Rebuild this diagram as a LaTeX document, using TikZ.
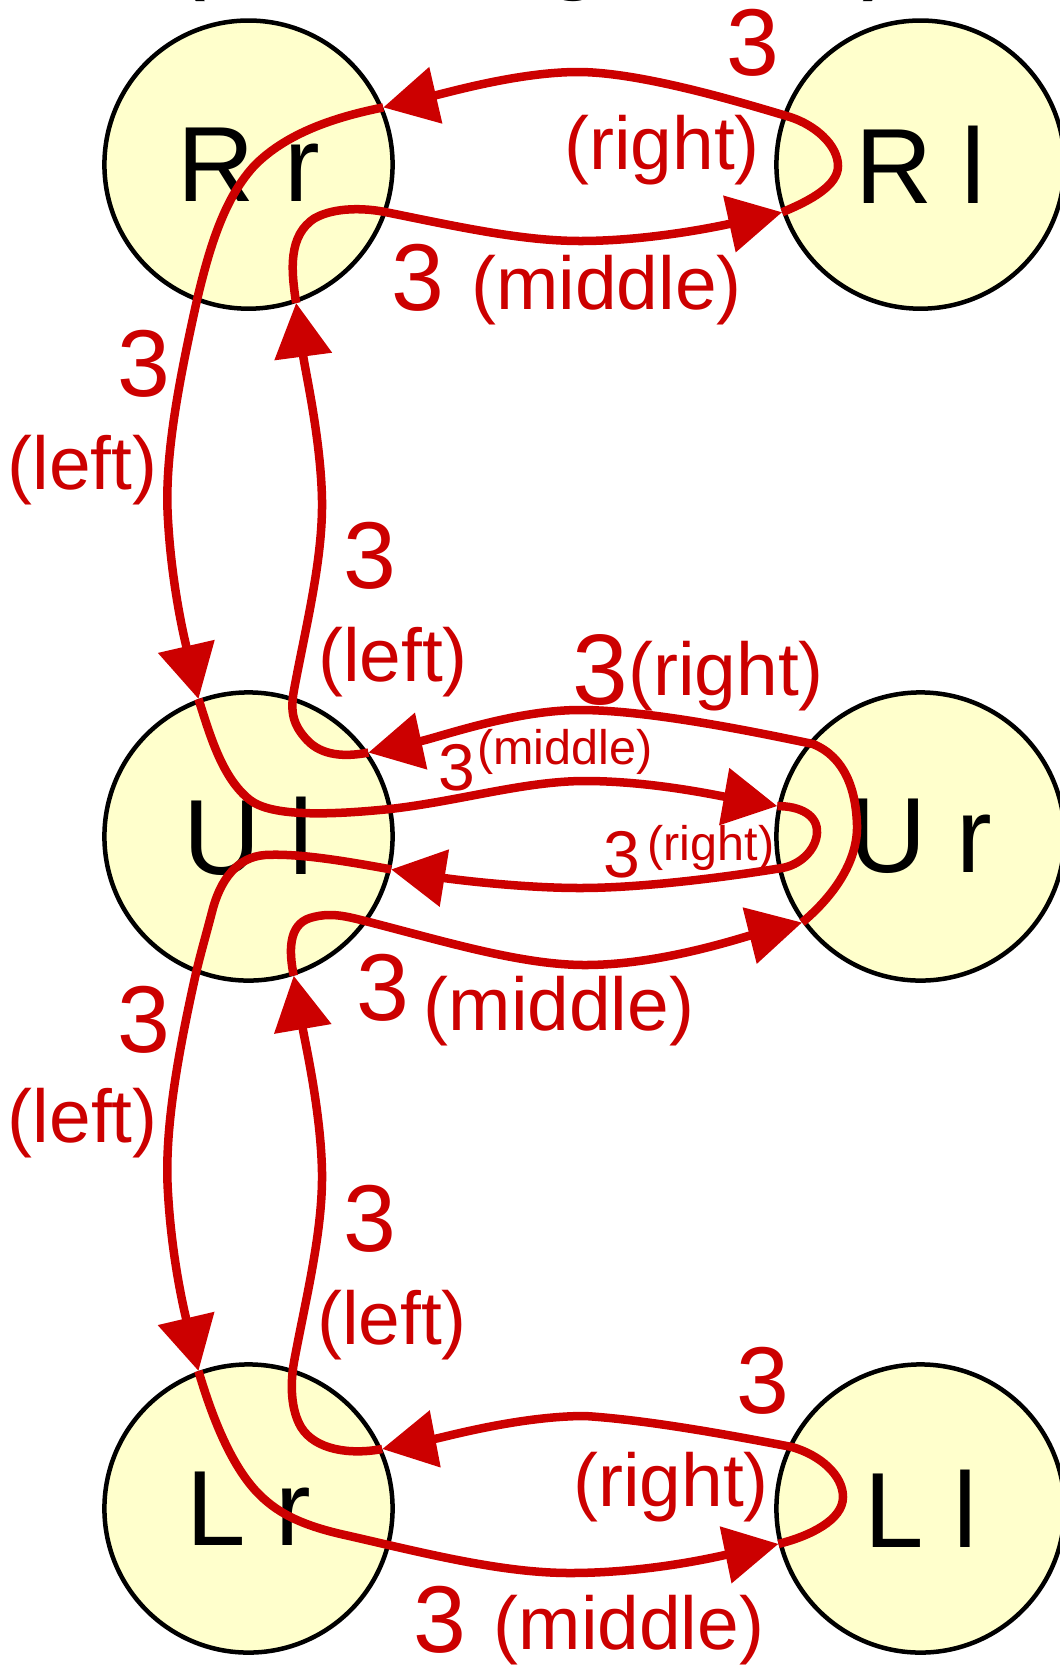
\documentclass[tikz,border=0pt]{standalone}
\usepackage{fontspec}
\setmainfont{Liberation Sans}
\usepackage{xcolor}
\usetikzlibrary{arrows.meta}
\definecolor{edgered}{HTML}{CC0000}
\definecolor{stfill}{HTML}{FFFFCC}
\newcommand{\statefont}{\fontsize{30.4}{36}\selectfont}
\newcommand{\wfont}{\fontsize{27}{32}\selectfont}
\newcommand{\bwfont}{\fontsize{28.5}{34}\selectfont}
\newcommand{\dfont}{\fontsize{21.3}{26}\selectfont}
\newcommand{\swfont}{\fontsize{18.8}{22}\selectfont}
\newcommand{\sdfont}{\fontsize{13.8}{16}\selectfont}

\begin{document}
\begin{tikzpicture}[x=0.01cm,y=-0.01cm,
  state/.style={circle,draw=black,line width=.045cm,fill=stfill,minimum size=2.88cm,inner sep=0pt,font=\statefont},
  edge/.style={draw=edgered,line width=.085cm,-{Triangle[length=.54cm,width=.56cm]}},
  wt/.style={text=edgered,font=\wfont,inner sep=0pt,anchor=base},
  dir/.style={text=edgered,font=\dfont,inner sep=0pt,anchor=base}]
\useasboundingbox (0,0) rectangle (1059,1666);
% title line, cut off by the top edge
\node[anchor=base west,inner sep=0pt,font=\statefont] (title) at (170,-21) {(\hspace{3.384cm}g\hspace{2.584cm})};

% states
\node[state] (Rr) at (248.5,164.6) {R r};
\node[state] (Rl) at (920.5,164.6) {R l};
\node[state] (Ul) at (248.5,836.5) {U l};
\node[state] (Ur) at (920.5,836.5) {U r};
\node[state] (Lr) at (248.5,1508.5) {L r};
\node[state] (Ll) at (920.5,1508.5) {L l};

% top pair
\draw[edge] (Rl.199) .. controls (812,200) and (838,185) .. (838,166)
  .. controls (838,145) and (815,125) .. (790,117)
  .. controls (740,102) and (640,72) .. (578,72)
  .. controls (520,72) and (450,92) .. (Rr.23);
\draw[edge] (Rr.-71) .. controls (291,270) and (288,235) .. (315,218)
  .. controls (335,207) and (365,208) .. (385,212)
  .. controls (450,225) and (520,241) .. (580,241)
  .. controls (650,241) and (720,226) .. (Rl.199);

% R r <-> U l
\draw[edge] (Rr.23) .. controls (330,118) and (285,135) .. (255,165)
  .. controls (225,197) and (210,245) .. (197,300)
  .. controls (178,385) and (164,460) .. (168,520)
  .. controls (172,590) and (186,645) .. (Ul.110);
\draw[edge] (Ul.35) .. controls (345,757) and (322,756) .. (307,740)
  .. controls (293,725) and (290,712) .. (294,690)
  .. controls (305,630) and (323,560) .. (322,500)
  .. controls (321,440) and (305,370) .. (Rr.-71);

% middle pair
\draw[edge] (Ur.216) .. controls (835,895) and (858,860) .. (857,825)
  .. controls (856,790) and (845,757) .. (813,744)
  .. controls (760,733) and (650,710) .. (580,710)
  .. controls (515,710) and (440,737) .. (Ul.35);
\draw[edge] (Ul.110) .. controls (210,735) and (222,778) .. (250,800)
  .. controls (272,817) and (330,815) .. (390,809)
  .. controls (460,801) and (525,781) .. (585,781)
  .. controls (650,781) and (715,795) .. (Ur.168);
\draw[edge] (Ur.168) .. controls (800,806) and (818,815) .. (817,833)
  .. controls (816,850) and (800,865) .. (782,868)
  .. controls (720,878) and (640,888) .. (580,888)
  .. controls (520,888) and (450,879) .. (Ul.-13);
\draw[edge] (Ul.-72) .. controls (289,952) and (288,925) .. (310,918)
  .. controls (330,912) and (345,916) .. (365,921)
  .. controls (440,940) and (520,965) .. (585,965)
  .. controls (660,965) and (740,938) .. (Ur.216);

% U l <-> L r
\draw[edge] (Ul.-13) .. controls (350,862) and (300,853) .. (265,855)
  .. controls (237,857) and (220,880) .. (212,912)
  .. controls (206,935) and (201,952) .. (196,973)
  .. controls (177,1058) and (164,1133) .. (168,1193)
  .. controls (172,1263) and (186,1318) .. (Lr.110);
\draw[edge] (Lr.24) .. controls (350,1455) and (315,1450) .. (301,1427)
  .. controls (291,1410) and (290,1385) .. (294,1362)
  .. controls (305,1302) and (323,1232) .. (322,1172)
  .. controls (321,1112) and (305,1042) .. (Ul.-72);

% bottom pair
\draw[edge] (Ll.194) .. controls (810,1536) and (843,1520) .. (843,1497)
  .. controls (843,1475) and (820,1455) .. (792,1447)
  .. controls (740,1437) and (650,1420) .. (585,1416)
  .. controls (520,1416) and (445,1437) .. (Lr.24);
\draw[edge] (Lr.110) .. controls (210,1410) and (228,1460) .. (255,1490)
  .. controls (275,1512) and (300,1525) .. (345,1535)
  .. controls (420,1552) and (500,1573) .. (570,1573)
  .. controls (650,1573) and (720,1556) .. (Ll.194);

% labels
\node[wt] (w1) at (752.5,75) {3};
\node[dir] (d1) at (662,169) {(right)};
\node[wt] (w2) at (418,310) {3};
\node[dir] (d2) at (606.5,309) {(middle)};
\node[wt] (w3) at (144,396) {3};
\node[dir] (d3) at (82.5,489) {(left)};
\node[wt] (w4) at (370,588) {3};
\node[dir] (d4) at (393,681) {(left)};
\node[wt,font=\bwfont] (w5) at (600,704) {3};
\node[dir] (d5) at (726,695) {(right)};
\node[wt,font=\swfont] (w6) at (457,790) {3};
\node[dir,font=\sdfont] (d6) at (565,764) {(middle)};
\node[wt,font=\swfont] (w7) at (622,877) {3};
\node[dir,font=\sdfont] (d7) at (711,860) {(right)};
\node[wt] (w8) at (383,1020) {3};
\node[dir] (d8) at (559,1030) {(middle)};
\node[wt] (w9) at (144,1052) {3};
\node[dir] (d9) at (82.7,1142) {(left)};
\node[wt] (w10) at (370,1251) {3};
\node[dir] (d10) at (392,1344) {(left)};
\node[wt] (w11) at (763,1413) {3};
\node[dir] (d11) at (671,1506) {(right)};
\node[wt] (w12) at (439.5,1652) {3};
\node[dir] (d12) at (629,1649) {(middle)};
\end{tikzpicture}
\end{document}
